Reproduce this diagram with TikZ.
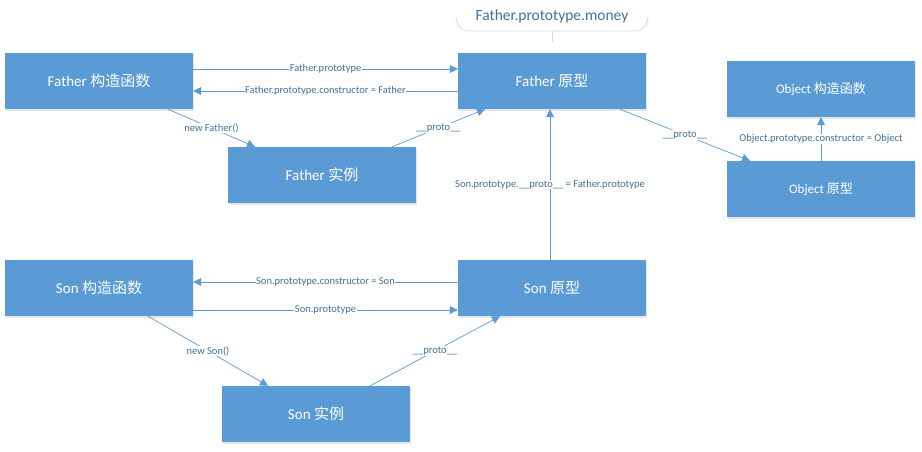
\documentclass[tikz,border=0pt]{standalone}
\usepackage{fontspec}
\setmainfont{Carlito}
\newfontfamily\cjk{Noto Sans CJK SC}
\usepackage{xcolor}
\usetikzlibrary{arrows.meta}
\usetikzlibrary{shadows}
\definecolor{bleu}{HTML}{5B9BD5}
\definecolor{bleutexte}{HTML}{41719C}
\definecolor{gris}{HTML}{D3DAE2}

\begin{document}
\begin{tikzpicture}[x=1pt,y=-1pt,
    boite/.style={fill=bleu, text=white, minimum width=188pt, minimum height=56pt,
        inner sep=0pt, font=\fontsize{15}{18}\selectfont,
        drop shadow={opacity=0.2, shadow xshift=1pt, shadow yshift=-1.5pt}},
    petite/.style={font=\fontsize{13}{16}\selectfont},
    lien/.style={draw=bleu, line width=0.7pt, -{Triangle[length=8pt,width=8pt]}},
    etiq/.style={fill=white, text=bleutexte, inner sep=0.5pt, font=\fontsize{10.5}{12}\selectfont}]
        \useasboundingbox (0,0) rectangle (922,451);

        % Les boites
        \node[boite] (fctor) at (99,81) {Father {\cjk 构造函数}};
        \node[boite] (fproto) at (552,81) {Father {\cjk 原型}};
        \node[boite] (finst) at (322,175) {Father {\cjk 实例}};
        \node[boite, petite] (octor) at (821,89) {Object {\cjk 构造函数}};
        \node[boite, petite] (oproto) at (821,189) {Object {\cjk 原型}};
        \node[boite] (sctor) at (99,288) {Son {\cjk 构造函数}};
        \node[boite] (sproto) at (552,288) {Son {\cjk 原型}};
        \node[boite] (sinst) at (316,414) {Son {\cjk 实例}};

        % Bulle au-dessus du prototype de Father
        \draw[gris, line width=0.8pt] (456,16) to[out=-90, in=180] (468,31) -- (636,31) to[out=0, in=-90] (648,16);
        \node[text=bleutexte, font=\fontsize{15.5}{18}\selectfont] (bulle) at (552,16) {Father.prototype.money};
        \coordinate (pied) at (552,42);
        \draw[gris, line width=0.8pt] (bulle.south |- 0,31) -- (pied);

        % Liens de Father
        \draw[lien] ([yshift=12pt]fctor.east) -- node[etiq] {Father.prototype} ([yshift=12pt]fproto.west);
        \draw[lien] ([yshift=-10pt]fproto.west) -- node[etiq] {Father.prototype.constructor = Father} ([yshift=-10pt]fctor.east);
        \draw[lien] ([xshift=69pt]fctor.south) -- node[etiq] {new Father()} ([xshift=-67pt]finst.north);
        \draw[lien] ([xshift=70pt]finst.north) -- node[etiq] {\_\_proto\_\_} ([xshift=-67pt]fproto.south);
        \draw[lien] ([xshift=68pt]fproto.south) -- node[etiq] {\_\_proto\_\_} ([xshift=-71pt]oproto.north);

        % Lien de Object
        \draw[lien] (oproto.north) -- node[etiq] {Object.prototype.constructor = Object} (octor.south);

        % Liens de Son
        \draw[lien] ([xshift=-2pt]sproto.north) -- node[etiq] {Son.prototype.\_\_proto\_\_ = Father.prototype} ([xshift=-2pt]fproto.south);
        \draw[lien] ([yshift=6pt]sproto.west) -- node[etiq] {Son.prototype.constructor = Son} ([yshift=6pt]sctor.east);
        \draw[lien] ([yshift=-22pt]sctor.east) -- node[etiq] {Son.prototype} ([yshift=-22pt]sproto.west);
        \draw[lien] ([xshift=49pt]sctor.south) -- node[etiq] {new Son()} ([xshift=-48pt]sinst.north);
        \draw[lien] ([xshift=54pt]sinst.north) -- node[etiq] {\_\_proto\_\_} ([xshift=-52pt]sproto.south);
    \end{tikzpicture}
\end{document}
